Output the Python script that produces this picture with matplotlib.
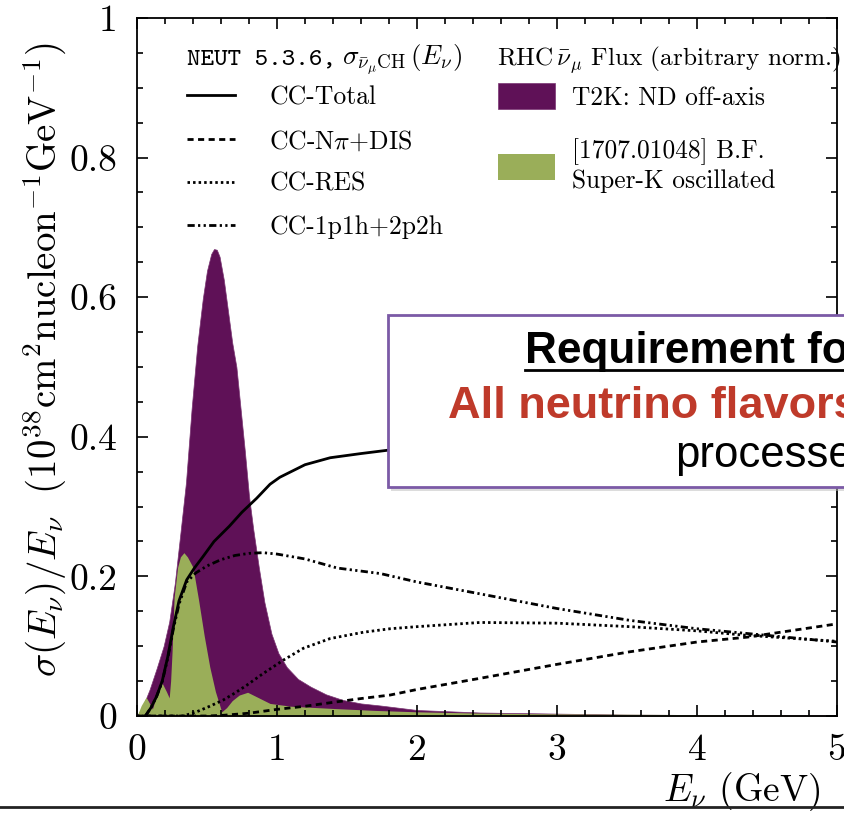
import numpy as np
import matplotlib
matplotlib.use('Agg')
import matplotlib.pyplot as plt
from matplotlib.ticker import MultipleLocator, FuncFormatter
from matplotlib.patches import Rectangle
from matplotlib.lines import Line2D

plt.rcParams['font.family'] = ['cmr10', 'DejaVu Serif']
plt.rcParams['mathtext.fontset'] = 'cm'
plt.rcParams['axes.formatter.use_mathtext'] = True

# T2K ND off-axis RHC anti-numu flux (arbitrary norm.)
flux_nd_e = [0.00, 0.04, 0.09, 0.14, 0.19, 0.23, 0.27, 0.31, 0.35, 0.39, 0.43,
             0.47, 0.50, 0.53, 0.55, 0.57, 0.59, 0.62, 0.65, 0.68, 0.71, 0.74,
             0.77, 0.80, 0.83, 0.87, 0.91, 0.96, 1.01, 1.07, 1.15, 1.24, 1.35,
             1.47, 1.60, 1.74, 2.00, 2.45, 2.80, 3.50, 4.00, 5.00]
flux_nd = [0.000, 0.013, 0.038, 0.068, 0.100, 0.135, 0.190, 0.262, 0.335, 0.440,
           0.530, 0.598, 0.638, 0.662, 0.669, 0.668, 0.658, 0.625, 0.580, 0.535,
           0.500, 0.440, 0.380, 0.315, 0.268, 0.213, 0.163, 0.118, 0.090, 0.070,
           0.053, 0.042, 0.031, 0.023, 0.018, 0.015, 0.0086, 0.005, 0.004,
           0.002, 0.0015, 0.001]

# Super-K oscillated flux (best fit, arXiv:1707.01048)
flux_sk_e = [0.00, 0.03, 0.065, 0.09, 0.11, 0.14, 0.18, 0.21, 0.23, 0.24, 0.25,
             0.265, 0.29, 0.31, 0.335, 0.36, 0.40, 0.44, 0.48, 0.52, 0.56, 0.605,
             0.64, 0.68, 0.73, 0.79, 0.85, 0.95, 1.10, 1.38, 1.70, 2.00, 2.50,
             3.00, 4.00, 5.00]
flux_sk = [0.000, 0.015, 0.027, 0.018, 0.010, 0.030, 0.047, 0.035, 0.026, 0.050,
           0.090, 0.170, 0.213, 0.228, 0.234, 0.228, 0.213, 0.166, 0.115, 0.070,
           0.035, 0.006, 0.012, 0.022, 0.030, 0.034, 0.028, 0.018, 0.014, 0.011,
           0.008, 0.006, 0.004, 0.003, 0.002, 0.001]

# NEUT 5.3.6 anti-numu CH cross sections / E
total_e = [0.06, 0.10, 0.14, 0.18, 0.22, 0.26, 0.30, 0.355, 0.41, 0.47, 0.55,
           0.66, 0.75, 0.855, 0.95, 1.02, 1.20, 1.38, 1.60, 1.80, 2.20, 2.60,
           3.00, 3.50, 4.00, 4.50, 5.00]
total = [0.000, 0.012, 0.028, 0.050, 0.085, 0.128, 0.165, 0.195, 0.212, 0.228,
         0.250, 0.272, 0.292, 0.312, 0.332, 0.342, 0.360, 0.370, 0.376, 0.381,
         0.388, 0.392, 0.394, 0.395, 0.395, 0.394, 0.393]

npi_e = [0.00, 0.50, 0.617, 0.80, 1.00, 1.20, 1.38, 1.60, 1.807, 2.00, 2.45,
         3.00, 3.52, 4.00, 4.36, 5.00]
npi = [0.000, 0.000, 0.001, 0.004, 0.0095, 0.014, 0.019, 0.025, 0.030, 0.038,
       0.054, 0.074, 0.092, 0.106, 0.113, 0.132]

res_e = [0.00, 0.33, 0.426, 0.52, 0.617, 0.70, 0.783, 0.902, 1.045, 1.188,
         1.38, 1.617, 1.807, 2.00, 2.45, 3.00, 3.52, 4.00, 4.33, 5.00]
res = [0.000, 0.000, 0.006, 0.014, 0.023, 0.033, 0.044, 0.061, 0.080, 0.097,
       0.111, 0.120, 0.125, 0.128, 0.134, 0.133, 0.128, 0.122, 0.116, 0.107]

qe_e = [0.06, 0.10, 0.14, 0.18, 0.22, 0.26, 0.30, 0.355, 0.42, 0.50, 0.60,
        0.70, 0.80, 0.90, 1.00, 1.20, 1.43, 1.74, 2.00, 2.45, 3.00, 3.52,
        4.00, 5.00]
qe = [0.000, 0.012, 0.028, 0.049, 0.083, 0.125, 0.160, 0.192, 0.205, 0.215,
      0.224, 0.230, 0.233, 0.234, 0.232, 0.225, 0.212, 0.204, 0.192, 0.175,
      0.154, 0.137, 0.125, 0.106]

purple = '#5f1157'
green = '#9aae59'

fig = plt.figure(figsize=(8.45, 8.13), dpi=100)
ax = fig.add_axes([137 / 845, 1 - 716 / 813, 700 / 845, 698 / 813])

f_nd = ax.fill_between(flux_nd_e, 0, flux_nd, color=purple, lw=0.5, ec='#7a3572')
f_sk = ax.fill_between(flux_sk_e, 0, flux_sk, color=green, lw=0)

l_tot, = ax.plot(total_e, total, color='black', lw=2.0, label='CC-Total')
l_npi, = ax.plot(npi_e, npi, color='black', lw=2.0,
                 ls=(0, (2.2, 1.6)), label=r'CC-N$\pi$+DIS')
l_res, = ax.plot(res_e, res, color='black', lw=2.0,
                 ls=(0, (0.9, 1.1)), label='CC-RES')
l_qe, = ax.plot(qe_e, qe, color='black', lw=2.0,
                ls=(0, (2.6, 1.2, 0.8, 1.2, 0.8, 1.2)), label='CC-1p1h+2p2h')

ax.set_xlim(0, 5)
ax.set_ylim(0, 1)
ax.xaxis.set_major_locator(MultipleLocator(1))
ax.xaxis.set_minor_locator(MultipleLocator(0.2))
ax.yaxis.set_major_locator(MultipleLocator(0.2))
ax.yaxis.set_minor_locator(MultipleLocator(0.05))
fmt = FuncFormatter(lambda v, _: f'{v:g}')
ax.xaxis.set_major_formatter(fmt)
ax.yaxis.set_major_formatter(fmt)
ax.tick_params(which='both', direction='in', top=True, right=True,
               labelsize=27, width=1.2)
ax.tick_params(which='major', length=8)
ax.tick_params(which='minor', length=4.5)
ax.tick_params(axis='x', pad=13)
ax.tick_params(axis='y', pad=14)
for s in ax.spines.values():
    s.set_linewidth(1.3)

ax.set_ylabel(r'$\sigma(E_\nu)/E_\nu\ \ (10^{38}\mathrm{cm}^2\mathrm{nucleon}^{-1}\mathrm{GeV}^{-1})$',
              fontsize=28)
ax.yaxis.set_label_coords(-0.098, 0.51)
ax.set_xlabel(r'$E_\nu$ (GeV)', fontsize=27, ha='right')
ax.xaxis.set_label_coords(0.976, -0.078)

# legend titles
ax.text(0.0714, 0.940, 'NEUT 5.3.6,', family='cmtt10',
        transform=ax.transAxes, fontsize=18.5, va='center', ha='left')
ax.text(0.293, 0.940, r'$\sigma_{\bar{\nu}_\mu\mathrm{CH}}\,(E_\nu)$',
        transform=ax.transAxes, fontsize=19.5, va='center', ha='left')
ax.text(0.514, 0.940, r'RHC$\,\bar{\nu}_\mu$ Flux (arbitrary norm.)',
        transform=ax.transAxes, fontsize=18.2, va='center', ha='left')

leg1 = ax.legend(handles=[l_tot, l_npi, l_res, l_qe],
                 loc='upper left', bbox_to_anchor=(0.0714, 0.903), frameon=False,
                 fontsize=18.5, handlelength=1.85, handletextpad=1.35,
                 labelspacing=0.74, borderpad=0, borderaxespad=0)
ax.add_artist(leg1)
leg2 = ax.legend(handles=[f_nd, f_sk],
                 labels=['T2K: ND off-axis', '[1707.01048] B.F.\nSuper-K oscillated'],
                 loc='upper left', bbox_to_anchor=(0.516, 0.907), frameon=False,
                 fontsize=18.3, handlelength=2.25, handleheight=1.2,
                 handletextpad=0.65, labelspacing=1.15,
                 borderpad=0, borderaxespad=0)

# overlay box from the slide
bx, by, bh = 388 / 845, 1 - 487 / 813, 172 / 813
fig.patches.append(Rectangle((bx + 0.004, by - 0.005), 0.7, bh, transform=fig.transFigure,
                             facecolor='#bbbbbb', edgecolor='none', alpha=0.5, zorder=5))
fig.patches.append(Rectangle((bx, by), 0.7, bh, transform=fig.transFigure,
                             facecolor='white', edgecolor='#7b5aa6', lw=2.0, zorder=6))
sans = ['Liberation Sans', 'DejaVu Sans']
fig.text(525 / 845, 1 - 363 / 813, 'Requirement for', fontsize=31.8, fontweight='bold',
         family=sans, color='black', zorder=7)
fig.add_artist(Line2D([525 / 845, 1.0], [1 - 370 / 813] * 2, color='black', lw=2,
                      transform=fig.transFigure, zorder=7))
fig.text(448 / 845, 1 - 418 / 813, 'All neutrino flavors', fontsize=32.5, fontweight='bold',
         family=sans, color='#bf3a2a', zorder=7)
fig.text(675 / 845, 1 - 467 / 813, 'processes', fontsize=31.5,
         family=sans, color='black', zorder=7)

# slide separator line
fig.add_artist(Line2D([0, 1], [1 - 807 / 813] * 2, color='#222222', lw=2,
                      transform=fig.transFigure))

fig.savefig('out.png', dpi=100)
